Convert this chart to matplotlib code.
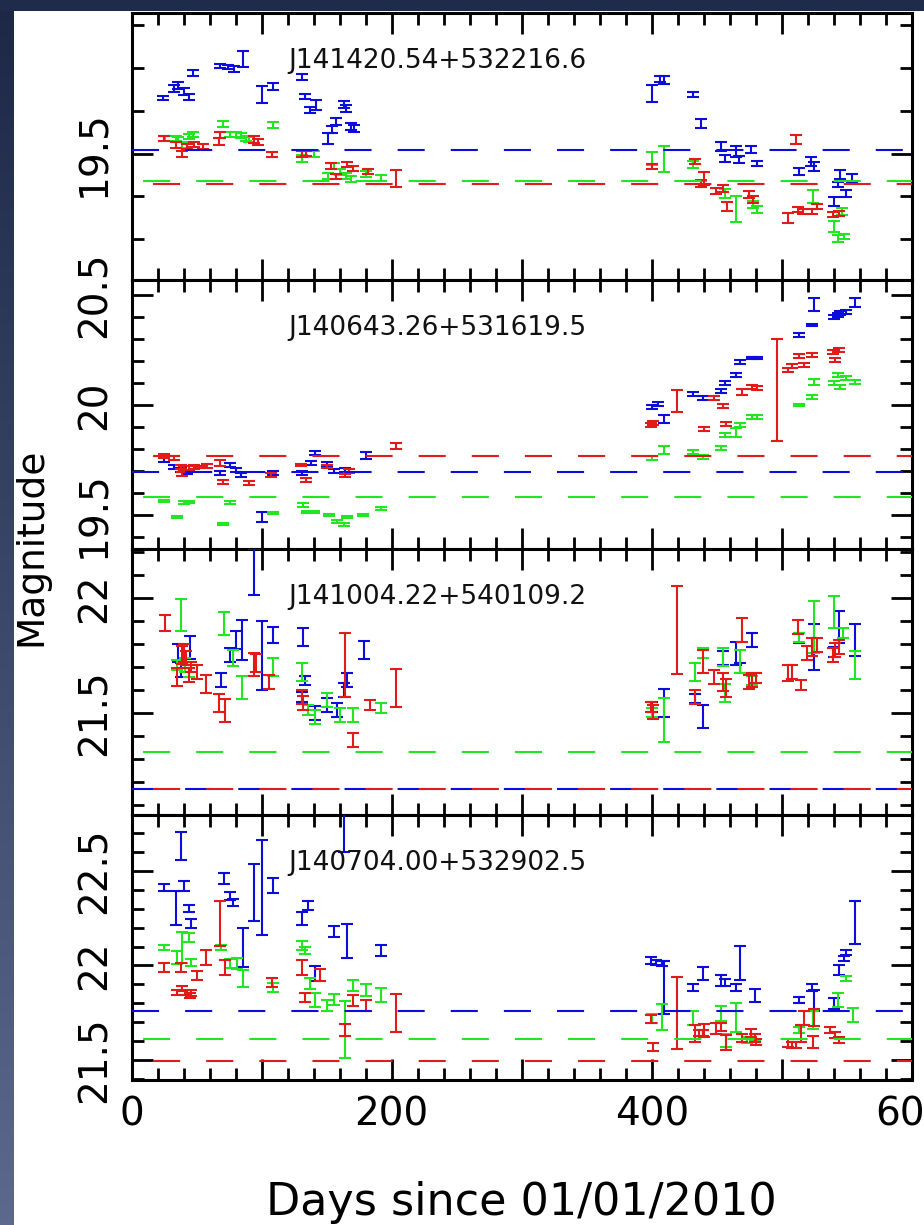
import numpy as np
import matplotlib
matplotlib.use("Agg")
import matplotlib.pyplot as plt
from matplotlib.ticker import MultipleLocator, FuncFormatter
from matplotlib.patches import Rectangle

# ---------------------------------------------------------------
# data (days since 01/01/2010, magnitude, error)
# ---------------------------------------------------------------
names = ["J141420.54+532216.6", "J140643.26+531619.5",
         "J141004.22+540109.2", "J140704.00+532902.5"]

# panel 1
p1_b_day = [24, 33, 36, 40, 44, 47, 68, 74, 79, 86, 100, 109, 131, 133, 137, 142, 151, 154, 157, 163, 165, 169, 171,
            400, 406, 409, 432, 438, 453, 456, 465, 467, 476, 481, 513, 522, 525, 540, 543, 545, 549, 554]
p1_b_mag = [19.629, 19.652, 19.658, 19.644, 19.633, 19.688, 19.705, 19.702, 19.698, 19.721, 19.637, 19.656, 19.679,
            19.633, 19.602, 19.614, 19.535, 19.556, 19.574, 19.614, 19.605, 19.563, 19.558,
            19.640, 19.674, 19.672, 19.637, 19.570, 19.516, 19.488, 19.505, 19.486, 19.509, 19.477, 19.458, 19.481,
            19.470, 19.388, 19.428, 19.451, 19.407, 19.442]
p1_b_err = [0.005, 0.008, 0.008, 0.008, 0.007, 0.006, 0.005, 0.005, 0.007, 0.018, 0.02, 0.008, 0.007, 0.006, 0.007,
            0.012, 0.012, 0.008, 0.008, 0.008, 0.008, 0.008, 0.008,
            0.02, 0.008, 0.01, 0.006, 0.01, 0.01, 0.008, 0.012, 0.008, 0.008, 0.006, 0.008, 0.01, 0.01, 0.01, 0.006,
            0.01, 0.008, 0.01]

p1_g_day = [26, 34, 36, 39, 44, 47, 70, 76, 80, 84, 88, 90, 109, 131, 140, 151, 156, 160, 165, 169, 180, 192,
            400, 409, 432, 438, 456, 465, 478, 481, 524, 540, 543, 546, 548]
p1_g_mag = [19.535, 19.535, 19.533, 19.521, 19.540, 19.544, 19.570, 19.544, 19.544, 19.542, 19.535, 19.533, 19.567,
            19.488, 19.498, 19.447, 19.470, 19.458, 19.447, 19.440, 19.453, 19.442,
            19.488, 19.488, 19.474, 19.430, 19.407, 19.370, 19.381, 19.370, 19.400, 19.330, 19.302, 19.365, 19.307]
p1_g_err = [0.006, 0.006, 0.006, 0.007, 0.006, 0.006, 0.007, 0.006, 0.006, 0.006, 0.006, 0.006, 0.007, 0.008, 0.007,
            0.007, 0.007, 0.007, 0.007, 0.007, 0.007, 0.007,
            0.015, 0.03, 0.008, 0.007, 0.01, 0.03, 0.008, 0.008, 0.015, 0.012, 0.008, 0.008, 0.006]

p1_r_day = [25, 34, 39, 43, 48, 55, 67, 68, 94, 97, 108, 131, 134, 153, 157, 166, 170, 182, 203,
            400, 433, 438, 440, 449, 455, 458, 475, 478, 505, 511, 512, 516, 523, 527, 539, 544]
p1_r_mag = [19.535, 19.521, 19.498, 19.516, 19.521, 19.516, 19.528, 19.544, 19.533, 19.528, 19.498, 19.498, 19.500,
            19.470, 19.447, 19.474, 19.465, 19.458, 19.442,
            19.470, 19.481, 19.430, 19.442, 19.412, 19.419, 19.377, 19.405, 19.393, 19.349, 19.533, 19.370, 19.365,
            19.365, 19.377, 19.358, 19.360]
p1_r_err = [0.006, 0.007, 0.007, 0.006, 0.006, 0.006, 0.008, 0.007, 0.008, 0.007, 0.005, 0.007, 0.006, 0.007, 0.006,
            0.006, 0.006, 0.006, 0.02,
            0.006, 0.006, 0.008, 0.015, 0.007, 0.008, 0.01, 0.008, 0.008, 0.012, 0.01, 0.006, 0.006, 0.006, 0.006,
            0.006, 0.006]

# panel 2
p2_b_day = [25, 33, 38, 43, 68, 76, 80, 84, 100, 109, 131, 138, 141, 150, 156, 164, 180,
            400, 405, 409, 432, 439, 453, 456, 465, 468, 477, 481, 513, 523, 525, 540, 543, 545, 549, 556]
p2_b_mag = [19.750, 19.718, 19.705, 19.695, 19.691, 19.727, 19.705, 19.682, 19.491, 19.691, 19.691, 19.736, 19.782,
            19.73, 19.70, 19.705, 19.77,
            19.991, 20.005, 19.936, 20.050, 20.032, 20.064, 20.100, 20.136, 20.195, 20.214, 20.214, 20.318, 20.364,
            20.455, 20.400, 20.409, 20.418, 20.423, 20.464]
p2_b_err = [0.008, 0.01, 0.01, 0.008, 0.01, 0.008, 0.01, 0.008, 0.023, 0.008, 0.01, 0.008, 0.01, 0.01, 0.01, 0.01,
            0.015,
            0.01, 0.008, 0.02, 0.008, 0.01, 0.01, 0.008, 0.01, 0.01, 0.006, 0.006, 0.008, 0.006, 0.03, 0.008, 0.008,
            0.008, 0.008, 0.02]

p2_r_day = [25, 33, 38, 39, 40, 44, 48, 53, 58, 68, 70, 90, 107, 130, 134, 150, 164, 167, 203,
            399, 401, 419, 440, 448, 455, 457, 469, 477, 481, 496, 505, 508, 513, 517, 523, 539, 541, 544]
p2_r_mag = [19.768, 19.759, 19.718, 19.686, 19.714, 19.714, 19.718, 19.718, 19.723, 19.736, 19.650, 19.645, 19.682,
            19.727, 19.659, 19.72, 19.68, 19.70, 19.814,
            19.909, 19.918, 20.018, 19.891, 20.032, 19.995, 19.914, 20.059, 20.082, 20.077, 20.068, 20.159, 20.177,
            20.223, 20.182, 20.227, 20.241, 20.205, 20.250]
p2_r_err = [0.008, 0.008, 0.01, 0.008, 0.008, 0.008, 0.008, 0.006, 0.008, 0.012, 0.008, 0.008, 0.008, 0.006, 0.01,
            0.008, 0.008, 0.008, 0.015,
            0.008, 0.01, 0.05, 0.01, 0.01, 0.008, 0.008, 0.012, 0.01, 0.01, 0.23, 0.01, 0.01, 0.01, 0.01, 0.01, 0.01,
            0.01, 0.008]

p2_g_day = [25, 35, 40, 44, 70, 76, 109, 132, 135, 140, 152, 158, 163, 166, 178, 192,
            400, 409, 432, 439, 453, 456, 465, 468, 477, 481, 513, 523, 525, 540, 543, 545, 549, 556]
p2_g_mag = [19.564, 19.491, 19.555, 19.559, 19.459, 19.555, 19.509, 19.545, 19.514, 19.514, 19.50, 19.47, 19.455,
            19.49, 19.50, 19.53,
            19.759, 19.795, 19.786, 19.764, 19.805, 19.864, 19.873, 19.909, 19.945, 19.945, 20.000, 20.036, 20.105,
            20.100, 20.136, 20.082, 20.123, 20.105]
p2_g_err = [0.006, 0.006, 0.006, 0.006, 0.006, 0.006, 0.006, 0.008, 0.006, 0.006, 0.006, 0.006, 0.006, 0.006, 0.006,
            0.006,
            0.008, 0.02, 0.008, 0.008, 0.008, 0.01, 0.02, 0.01, 0.008, 0.008, 0.006, 0.008, 0.015, 0.01, 0.01, 0.01,
            0.01, 0.01]

# panel 3
p3_r_day = [26, 35, 39, 40, 42, 44, 46, 50, 57, 67, 72, 94, 96, 106, 131, 132, 164, 170, 183, 203,
            399, 401, 419, 433, 439, 448, 455, 457, 469, 475, 477, 480, 505, 508, 512, 515, 519, 523, 527, 539,
            541, 544]
p3_r_mag = [21.891, 21.657, 21.752, 21.761, 21.739, 21.665, 21.700, 21.678, 21.626, 21.543, 21.513, 21.709, 21.717,
            21.635, 21.570, 21.543, 21.709, 21.383, 21.535, 21.609,
            21.526, 21.504, 21.861, 21.570, 21.722, 21.657, 21.635, 21.609, 21.861, 21.635, 21.643, 21.652, 21.674,
            21.678, 21.874, 21.622, 21.761, 21.787, 21.796, 21.752, 21.774, 21.787]
p3_r_err = [0.034, 0.04, 0.04, 0.04, 0.03, 0.03, 0.02, 0.03, 0.04, 0.04, 0.05, 0.05, 0.04, 0.03, 0.03, 0.03, 0.14,
            0.03, 0.02, 0.083,
            0.02, 0.03, 0.19, 0.03, 0.05, 0.03, 0.04, 0.04, 0.05, 0.03, 0.03, 0.02, 0.035, 0.03, 0.03, 0.02, 0.03,
            0.04, 0.03, 0.03, 0.03, 0.03]

p3_b_day = [36, 38, 45, 69, 76, 80, 85, 94, 100, 109, 131, 132, 133, 141, 150, 158, 163, 166, 179,
            400, 409, 433, 439, 455, 465, 468, 477, 513, 525, 540, 544, 556]
p3_b_mag = [21.761, 21.687, 21.783, 21.643, 21.752, 21.817, 21.817, 22.113, 21.752, 21.839, 21.570, 21.830, 21.643,
            21.500, 21.535, 21.513, 21.600, 21.643, 21.774,
            21.526, 21.543, 21.565, 21.483, 21.739, 21.761, 21.696, 21.817, 21.826, 21.787, 21.765, 21.874, 21.817]
p3_b_err = [0.04, 0.03, 0.05, 0.03, 0.03, 0.04, 0.087, 0.1, 0.15, 0.035, 0.02, 0.04, 0.02, 0.03, 0.03, 0.03, 0.03,
            0.03, 0.04,
            0.02, 0.06, 0.02, 0.05, 0.03, 0.05, 0.02, 0.03, 0.02, 0.1, 0.02, 0.07, 0.07]

p3_g_day = [35, 38, 41, 44, 71, 78, 85, 109, 131, 136, 141, 150, 160, 170, 192,
            400, 409, 433, 439, 455, 456, 468, 477, 513, 525, 540, 547, 556]
p3_g_mag = [21.709, 21.926, 21.709, 21.678, 21.891, 21.739, 21.613, 21.700, 21.678, 21.513, 21.483, 21.557, 21.491,
            21.491, 21.522,
            21.504, 21.470, 21.678, 21.761, 21.743, 21.587, 21.722, 21.643, 21.830, 21.874, 21.939, 21.848, 21.709]
p3_g_err = [0.02, 0.07, 0.03, 0.02, 0.05, 0.035, 0.05, 0.04, 0.04, 0.02, 0.03, 0.03, 0.03, 0.03, 0.02,
            0.02, 0.094, 0.04, 0.02, 0.04, 0.04, 0.05, 0.02, 0.02, 0.115, 0.07, 0.02, 0.06]

# panel 4
p4_b_day = [25, 34, 38, 40, 44, 46, 71, 76, 78, 86, 94, 100, 109, 131, 136, 141, 156, 163, 166, 192,
            399, 403, 408, 409, 432, 439, 453, 456, 465, 468, 479, 513, 523, 525, 540, 544, 548, 549, 556]
p4_b_mag = [22.411, 22.305, 22.632, 22.421, 22.300, 22.221, 22.458, 22.368, 22.332, 22.095, 22.384, 22.411, 22.421,
            22.247, 22.316, 21.958, 22.18, 22.72, 22.13, 22.079,
            22.026, 22.016, 22.011, 21.884, 21.884, 21.958, 21.921, 21.911, 21.884, 22.011, 21.842, 21.816, 21.884,
            21.816, 21.800, 21.974, 22.037, 22.068, 22.226]
p4_b_err = [0.02, 0.09, 0.074, 0.026, 0.02, 0.025, 0.03, 0.02, 0.02, 0.105, 0.15, 0.25, 0.04, 0.035, 0.025, 0.04,
            0.03, 0.12, 0.09, 0.03,
            0.02, 0.015, 0.015, 0.14, 0.02, 0.035, 0.03, 0.02, 0.02, 0.09, 0.035, 0.015, 0.02, 0.055, 0.03, 0.026,
            0.015, 0.015, 0.115]

p4_g_day = [25, 35, 39, 44, 46, 69, 76, 81, 86, 109, 131, 133, 137, 141, 150, 156, 164, 170, 180, 192,
            400, 408, 432, 439, 453, 457, 465, 473, 479, 513, 524, 543, 549, 555]
p4_g_mag = [22.095, 22.042, 22.095, 22.147, 22.016, 22.095, 22.011, 22.011, 21.932, 21.884, 22.105, 22.079, 21.905,
            21.816, 21.79, 21.82, 21.66, 21.895, 21.87, 21.842,
            21.721, 21.726, 21.721, 21.642, 21.747, 21.605, 21.726, 21.605, 21.621, 21.658, 21.711, 21.816, 21.932,
            21.737]
p4_g_err = [0.013, 0.035, 0.08, 0.023, 0.02, 0.013, 0.023, 0.03, 0.045, 0.026, 0.023, 0.02, 0.03, 0.037, 0.03, 0.03,
            0.15, 0.03, 0.03, 0.037,
            0.023, 0.068, 0.037, 0.015, 0.04, 0.035, 0.076, 0.015, 0.015, 0.015, 0.047, 0.037, 0.015, 0.037]

p4_r_day = [25, 35, 38, 39, 41, 45, 46, 50, 57, 68, 72, 108, 131, 133, 145, 164, 170, 180, 203,
            399, 401, 419, 433, 436, 439, 440, 449, 453, 457, 469, 476, 479, 480, 505, 508, 511, 515, 517, 524, 525,
            537, 541, 544]
p4_r_mag = [21.989, 21.858, 21.989, 21.879, 21.858, 21.842, 21.853, 21.947, 22.042, 22.221, 21.989, 21.911, 21.989,
            21.832, 21.95, 21.66, 21.816, 21.79, 21.747,
            21.716, 21.568, 21.747, 21.642, 21.642, 21.642, 21.658, 21.668, 21.674, 21.595, 21.616, 21.642, 21.616,
            21.595, 21.589, 21.579, 21.579, 21.642, 21.721, 21.595, 21.726, 21.658, 21.632, 21.605]
p4_r_err = [0.023, 0.015, 0.023, 0.015, 0.015, 0.015, 0.015, 0.023, 0.04, 0.12, 0.04, 0.023, 0.04, 0.023, 0.03, 0.03,
            0.03, 0.03, 0.1,
            0.02, 0.02, 0.19, 0.045, 0.015, 0.015, 0.035, 0.03, 0.02, 0.04, 0.02, 0.02, 0.02, 0.015, 0.02, 0.015,
            0.015, 0.045, 0.037, 0.03, 0.045, 0.015, 0.015, 0.015]

# mean (reference) magnitudes, dashed lines
ref_blue = [19.509, 19.695, 21.170, 21.758]
ref_green = [19.435, 19.583, 21.332, 21.610]
ref_red = [19.428, 19.768, 21.170, 21.495]

ylims = [(19.205, 19.828), (19.345, 20.568), (21.057, 22.213), (21.395, 22.795)]

# ---------------------------------------------------------------
BLUE = '#0c0cdc'
GREEN = '#22e622'
RED = '#e21a1a'

plt.rcParams['font.family'] = ['DejaVu Sans']

W, H = 924, 1225
fig = plt.figure(figsize=(W / 100, H / 100), dpi=100, facecolor='white')

# slide background strips (left gradient + top band)
bg = fig.add_axes([0, 0, 14 / W, 1])
grad = np.linspace(0, 1, 256)[:, None]
top_c = np.array([28, 40, 70]) / 255
bot_c = np.array([92, 104, 140]) / 255
img = top_c[None, None, :] * (1 - grad[..., None]) + bot_c[None, None, :] * grad[..., None]
bg.imshow(img, aspect='auto', extent=[0, 1, 0, 1])
bg.axis('off')
fig.add_artist(Rectangle((0, 1 - 11 / H), 1, 11 / H, transform=fig.transFigure,
                         facecolor='#1e2b4a', edgecolor='none'))

left = 131.5 / W
width = 912 / W - left
bounds_px = [(13, 280), (280, 549), (549, 815), (815, 1080)]

series = [
    [(p1_b_day, p1_b_mag, p1_b_err, BLUE), (p1_g_day, p1_g_mag, p1_g_err, GREEN), (p1_r_day, p1_r_mag, p1_r_err, RED)],
    [(p2_b_day, p2_b_mag, p2_b_err, BLUE), (p2_g_day, p2_g_mag, p2_g_err, GREEN), (p2_r_day, p2_r_mag, p2_r_err, RED)],
    [(p3_b_day, p3_b_mag, p3_b_err, BLUE), (p3_g_day, p3_g_mag, p3_g_err, GREEN), (p3_r_day, p3_r_mag, p3_r_err, RED)],
    [(p4_b_day, p4_b_mag, p4_b_err, BLUE), (p4_g_day, p4_g_mag, p4_g_err, GREEN), (p4_r_day, p4_r_mag, p4_r_err, RED)],
]

LW = 1.5
for i, (top, bot) in enumerate(bounds_px):
    ax = fig.add_axes([left, 1 - bot / H, width, (bot - top) / H])
    for day, mag, err, col in series[i]:
        ax.errorbar(day, mag, yerr=err, fmt='none', ecolor=col, elinewidth=LW,
                    capsize=4.5, capthick=LW, zorder=3)
    # reference levels, dash phase differs per colour
    ax.plot([0, 600], [ref_blue[i]] * 2, color=BLUE, lw=LW, ls=(0, (13, 12.5)), zorder=4)
    ax.plot([0, 600], [ref_green[i]] * 2, color=GREEN, lw=LW, ls=(20.2, (13, 12.5)), zorder=4)
    ax.plot([0, 600], [ref_red[i]] * 2, color=RED, lw=LW, ls=(15.4, (13, 12.5)), zorder=4)

    ax.set_xlim(0, 600)
    ax.set_ylim(*ylims[i])
    ax.xaxis.set_major_locator(MultipleLocator(100))
    ax.xaxis.set_minor_locator(MultipleLocator(20))
    ax.yaxis.set_major_locator(MultipleLocator(0.5))
    ax.yaxis.set_minor_locator(MultipleLocator(0.1))
    ax.tick_params(which='both', direction='in', top=True, right=True, width=2.0, color='black')
    ax.tick_params(which='major', length=15)
    ax.tick_params(which='minor', length=8.5)
    ax.tick_params(axis='y', labelsize=28, pad=13)
    ax.tick_params(axis='x', labelsize=28, pad=11)
    for sp in ax.spines.values():
        sp.set_linewidth(2.2)
    ax.yaxis.set_major_formatter(FuncFormatter(lambda v, p: f"{v:g}"))
    for lab in ax.get_yticklabels():
        lab.set_rotation(90)
        lab.set_va('center')
    if i == 3:
        ax.xaxis.set_major_formatter(FuncFormatter(lambda v, p: f"{v:.0f}" if round(v) % 200 == 0 else ""))
    else:
        ax.tick_params(axis='x', labelbottom=False)
    ax.text(0.201, 0.82, names[i], transform=ax.transAxes, fontsize=19,
            ha='left', va='center', color='#111111', zorder=5)

fig.text(521 / W, 1 - 1202 / H, 'Days since 01/01/2010', fontsize=32, ha='center', va='center')
fig.text(31 / W, 1 - 547 / H, 'Magnitude', fontsize=27, rotation=90, ha='center', va='center')

fig.savefig('out.png', dpi=100, facecolor='white')
